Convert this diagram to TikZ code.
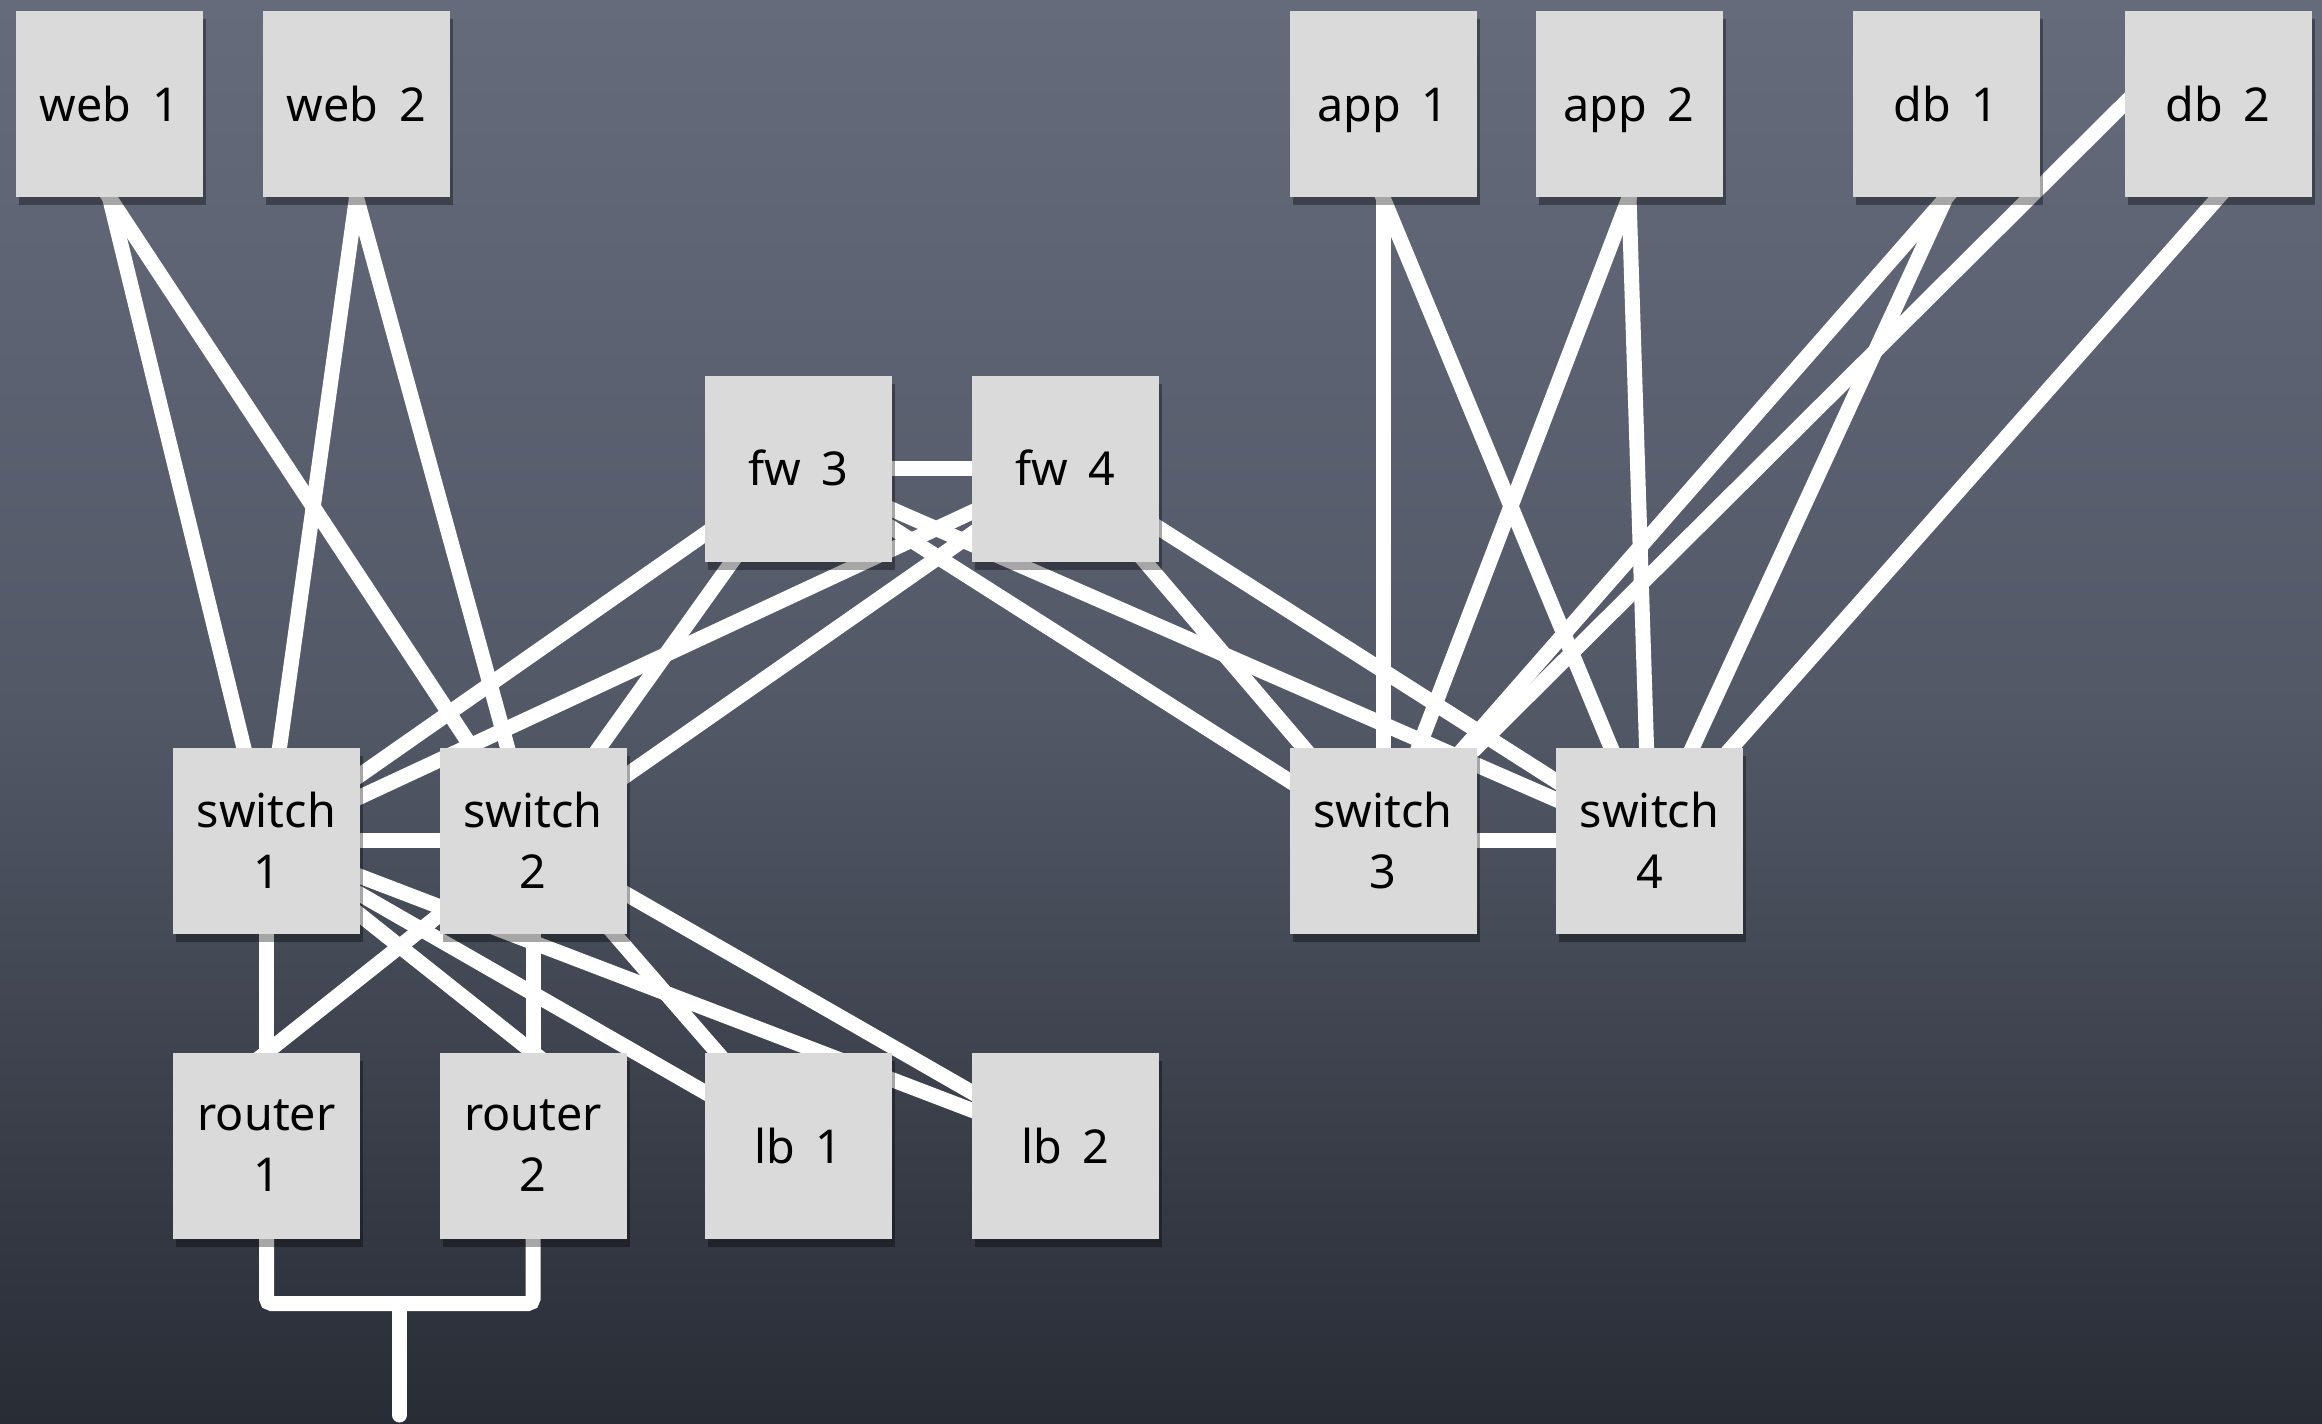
\documentclass[tikz,border=0pt]{standalone}
\usepackage{fontspec}
\setmainfont[WordSpace=1.7]{Noto Sans}
\usetikzlibrary{shadows,calc}
\definecolor{boxgray}{RGB}{218,218,218}
\definecolor{bgtop}{RGB}{101,107,123}
\definecolor{bgmid}{RGB}{82,88,102}
\definecolor{bgbot}{RGB}{40,44,53}
\pgfdeclarelayer{bg}
\pgfdeclarelayer{lines}
\pgfsetlayers{bg,lines,main}
\begin{document}
\begin{tikzpicture}[x=0.3pt,y=-0.3pt,
  box/.style={fill=boxgray, minimum width=56.1pt, minimum height=55.8pt, inner sep=0pt,
    align=center, font=\fontsize{14}{18.3}\selectfont,
    drop shadow={shadow xshift=0.9pt, shadow yshift=-2.4pt, opacity=0.35, fill=black}},
  onebox/.style={box, text height=10.4pt, text depth=0pt},
  link/.style={draw=white, line width=4.5pt, shorten <=-4pt, shorten >=-4pt}]
\useasboundingbox (0,0) rectangle (2322,1423);
\begin{pgfonlayer}{bg}
  \shade[top color=bgtop, bottom color=bgbot, middle color=bgmid] (0,0) rectangle (2322,1423);
\end{pgfonlayer}
% nodes
\node[onebox] (web1) at (109.5,104) {web 1};
\node[onebox] (web2) at (356.5,104) {web 2};
\node[onebox] (app1) at (1383,104) {app 1};
\node[onebox] (app2) at (1629,104) {app 2};
\node[onebox] (db1) at (1946,104) {db 1};
\node[onebox] (db2) at (2218,104) {db 2};
\node[onebox] (fw3) at (798.5,468.5) {fw 3};
\node[onebox] (fw4) at (1065.5,468.5) {fw 4};
\node[box] (sw1) at (266.5,840.5) {switch\\1};
\node[box] (sw2) at (533,840.5) {switch\\2};
\node[box] (sw3) at (1383,840.5) {switch\\3};
\node[box] (sw4) at (1649.5,840.5) {switch\\4};
\node[box] (r1) at (266.5,1146) {router\\1};
\node[box] (r2) at (533,1146) {router\\2};
\node[onebox] (lb1) at (798.5,1146) {lb 1};
\node[onebox] (lb2) at (1065.5,1146) {lb 2};
\coordinate (j) at (399.5,1303.5);
\coordinate (out) at (399.5,1415);
\begin{pgfonlayer}{lines}
  % web tier
  \draw[link] (web1.south) -- (sw1.center);
  \draw[link] (web1.south) -- (sw2.center);
  \draw[link] (web2.south) -- (sw1.center);
  \draw[link] (web2.south) -- (sw2.center);
  % app / db tier
  \draw[link] (app1.south) -- (sw3.center);
  \draw[link] (app1.south) -- (sw4.center);
  \draw[link] (app2.south) -- (sw3.center);
  \draw[link] (app2.south) -- (sw4.center);
  \draw[link] (db1.south) -- (sw3.center);
  \draw[link] (db1.south) -- (sw4.center);
  \draw[link] (db2.west) -- (sw3.center);
  \draw[link] (db2.south) -- (sw4.center);
  % firewalls
  \draw[link] (fw3) -- (fw4);
  \foreach \f in {fw3,fw4}{
    \foreach \s in {sw1,sw2,sw3,sw4}{
      \draw[link] (\f.center) -- (\s.center);
    }
  }
  % switch pairs
  \draw[link] (sw1) -- (sw2);
  \draw[link] (sw3) -- (sw4);
  % switches to routers / load balancers
  \draw[link] (sw1.center) -- (r1.center);
  \draw[link] (sw2.center) -- (r2.center);
  \draw[link] (sw1.center) -- (r2.north);
  \draw[link] (sw2.center) -- (r1.north);
  \draw[link] (sw1.center) -- (lb1.center);
  \draw[link] (sw1.center) -- (lb2.center);
  \draw[link] (sw2.center) -- (lb1.center);
  \draw[link] (sw2.center) -- (lb2.center);
  % uplink bracket
  \draw[link, rounded corners=1.5pt] (r1.south) |- (j) -| (r2.south);
  \draw[draw=white, line width=4.5pt, line cap=round] (j) -- (out);
\end{pgfonlayer}
\end{tikzpicture}
\end{document}
